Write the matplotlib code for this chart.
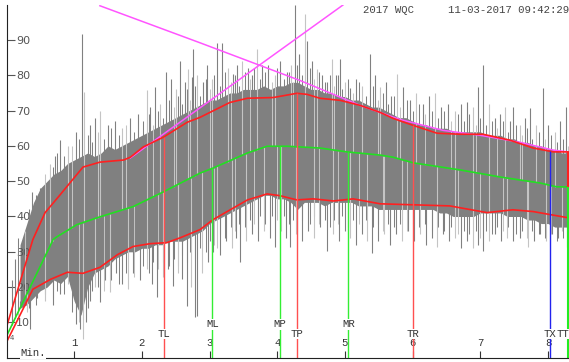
import numpy as np
import matplotlib
matplotlib.use("Agg")
import matplotlib.pyplot as plt

# envelope curves (minutes, value)
upper_x = [0.0, 0.39, 0.57, 0.79, 1.13, 1.38, 1.73, 1.83, 2.02, 2.32, 2.67, 2.86, 3.30, 3.56,
           3.94, 4.29, 4.44, 4.63, 4.93, 5.22, 5.52, 5.71, 6.01, 6.36, 6.70, 7.04, 7.44, 7.78,
           8.08, 8.30]
upper_y = [8.7, 33.5, 41.1, 46.1, 54.0, 55.4, 56.0, 56.8, 59.7, 62.5, 66.7, 68.1, 72.3, 73.5,
           73.7, 74.9, 74.6, 73.5, 72.9, 71.5, 69.5, 67.8, 65.8, 63.6, 63.3, 63.3, 61.6, 59.4,
           58.3, 58.3]

mean_x = [0.0, 0.69, 0.75, 1.04, 1.38, 1.87, 2.32, 2.86, 3.05, 3.56, 3.85, 4.15, 4.63, 5.03,
          5.52, 5.71, 6.01, 6.70, 7.29, 7.88, 8.13, 8.30]
mean_y = [6.1, 33.5, 34.3, 37.7, 39.9, 42.8, 47.0, 52.3, 53.7, 58.0, 59.9, 59.9, 59.4, 58.3,
          57.4, 56.8, 55.2, 53.2, 51.2, 49.5, 48.4, 48.4]

lower_x = [0.0, 0.39, 0.65, 0.90, 1.13, 1.38, 1.64, 1.87, 2.12, 2.37, 2.57, 2.86, 3.05, 3.56,
           3.85, 4.04, 4.29, 4.53, 4.83, 5.12, 5.52, 6.55, 7.10, 7.48, 7.78, 8.28]
lower_y = [4.4, 19.4, 22.2, 24.2, 23.9, 25.6, 29.2, 31.5, 32.3, 32.6, 34.0, 36.3, 39.1, 44.7,
           46.4, 45.9, 44.7, 45.0, 44.4, 45.0, 43.6, 43.0, 41.1, 41.9, 41.4, 39.7]

mag_down_x = [1.38, 2.86, 4.34, 5.22, 5.81, 6.45, 7.00, 7.59, 8.08, 8.30]
mag_down_y = [99.7, 89.2, 78.5, 71.5, 67.5, 64.4, 63.0, 61.0, 58.8, 58.3]
mag_up_x = [1.83, 4.97]
mag_up_y = [56.6, 99.9]

# dense part of the signal (every 0.1 min from 0.2)
core_hi = [32, 38, 44, 48, 50, 52, 53, 55, 56, 57, 58, 57, 58, 60, 59, 60, 61, 62, 63, 64,
           65, 66, 67, 68, 69, 70, 71, 72, 73, 73, 74, 75, 75, 76, 76, 76, 77, 76, 77, 77,
           78, 78, 77, 76, 76, 75, 75, 74, 74, 73, 73, 72, 71, 71, 70, 69, 68, 68, 67, 66,
           66, 65, 65, 65, 64, 64, 64, 64, 64, 63, 63, 63, 62, 62, 61, 61, 60, 60, 59, 59,
           58, 58]
core_lo = [14, 15, 17, 19, 20, 22, 21, 23, 16, 12, 20, 24, 25, 26, 28, 29, 30, 30, 31, 31,
           32, 32, 33, 33, 33, 34, 35, 36, 38, 39, 40, 41, 42, 43, 44, 45, 46, 46, 45, 45,
           44, 42, 44, 44, 44, 43, 44, 44, 44, 44, 43, 43, 43, 42, 42, 42, 42, 42, 42, 42,
           42, 42, 41, 41, 40, 40, 40, 40, 41, 41, 41, 41, 40, 40, 40, 39, 39, 38, 38, 37,
           37, 37]

# tall spikes above / below the dense part
up_x = [0.13, 0.28, 0.38, 0.50, 0.65, 0.72, 0.79, 0.91, 1.03, 1.12, 1.15, 1.24, 1.31, 1.38,
        1.50, 1.61, 1.71, 1.83, 1.95, 2.08, 2.12, 2.20, 2.27, 2.36, 2.43, 2.51, 2.57, 2.64,
        2.68, 2.74, 2.76, 2.82, 2.91, 2.96, 3.04, 3.11, 3.19, 3.27, 3.35, 3.41, 3.48, 3.57,
        3.63, 3.70, 3.78, 3.87, 3.97, 4.04, 4.15, 4.20, 4.26, 4.32, 4.41, 4.44, 4.52, 4.59,
        4.66, 4.74, 4.81, 4.87, 4.93, 5.00, 5.08, 5.17, 5.25, 5.37, 5.45, 5.52, 5.61, 5.68,
        5.77, 5.86, 5.96, 6.05, 6.15, 6.24, 6.33, 6.42, 6.52, 6.63, 6.72, 6.80, 6.89, 6.97,
        7.04, 7.13, 7.22, 7.29, 7.37, 7.44, 7.48, 7.59, 7.66, 7.73, 7.82, 7.93, 8.00, 8.11,
        8.18, 8.27]
up_y = [28, 36, 47, 48, 55, 57, 61.6, 60, 64, 91.8, 75.4, 66, 68, 70,
        66, 67, 65, 68, 69, 75.7, 71, 76.6, 72, 80.8, 79, 76, 84, 78,
        81.9, 79.6, 87.5, 80, 78, 83, 79, 89.2, 89.2, 82, 80.5, 83, 84, 82,
        80, 87.5, 83, 82.8, 80, 84, 80.8, 83, 100, 86, 97.4, 89.8, 84, 81.9,
        80, 78, 84.7, 80, 84.7, 78, 76.3, 79, 77, 86.1, 80, 76.6, 78, 74,
        80.5, 76.6, 73, 75, 72, 74, 74.9, 71, 72, 70, 72, 72.3, 71, 76.6,
        82.8, 72, 68, 69, 70.9, 67, 70.9, 66, 68, 70.6, 66, 76.3, 66, 64,
        67, 70.9]

dn_x = [0.08, 0.20, 0.31, 0.35, 0.45, 0.57, 0.68, 0.79, 0.91, 1.03, 1.09, 1.13, 1.18, 1.24,
        1.31, 1.38, 1.46, 1.53, 1.62, 1.71, 1.79, 1.87, 1.97, 2.08, 2.15, 2.23, 2.31, 2.39,
        2.46, 2.54, 2.59, 2.67, 2.73, 2.79, 2.82, 2.89, 2.98, 3.05, 3.11, 3.16, 3.24, 3.33,
        3.39, 3.45, 3.54, 3.63, 3.72, 3.81, 3.89, 3.97, 4.06, 4.13, 4.19, 4.28, 4.37, 4.46,
        4.55, 4.63, 4.74, 4.83, 4.91, 5.00, 5.08, 5.17, 5.25, 5.33, 5.40, 5.49, 5.58, 5.67,
        5.76, 5.85, 5.93, 6.02, 6.11, 6.20, 6.29, 6.36, 6.45, 6.54, 6.63, 6.72, 6.80, 6.89,
        6.97, 7.04, 7.13, 7.22, 7.31, 7.40, 7.48, 7.59, 7.71, 7.79, 7.88, 7.97, 8.06, 8.15,
        8.21, 8.28]
dn_y = [22, 16, 13, 8, 17, 16, 15, 18, 21, 9.5, 8.1, 5.3, 10, 16,
        20, 15.7, 22, 18.5, 24, 21, 19.4, 24, 22, 25, 21, 17.1, 23, 25,
        20.2, 24, 22.2, 14.6, 20, 11.4, 11.8, 24, 27, 30, 31, 29.2, 33, 31,
        34, 27, 33, 35, 33, 36, 34, 31.5, 36, 34, 31.5, 35, 33, 36,
        34, 37, 30.1, 35, 33, 36, 34, 32, 35, 33, 29.8, 33, 35, 32,
        35, 33, 36, 33, 35, 32, 34, 31.5, 35, 33, 34, 31, 33, 31,
        32, 30.1, 33, 35, 33, 34, 33, 34, 31.5, 33, 35, 33, 35, 34,
        36, 31.5]

# shorter spikes in between
mid_x = [0.17, 0.33, 0.44, 0.57, 0.69, 0.75, 0.85, 0.97, 1.07, 1.20, 1.27, 1.35, 1.44, 1.55,
         1.66, 1.77, 1.89, 2.01, 2.10, 2.16, 2.24, 2.31, 2.40, 2.47, 2.54, 2.60, 2.66, 2.71,
         2.79, 2.86, 2.94, 3.00, 3.07, 3.15, 3.23, 3.31, 3.38, 3.44, 3.52, 3.60, 3.66, 3.74,
         3.82, 3.92, 4.00, 4.10, 4.18, 4.23, 4.29, 4.36, 4.48, 4.55, 4.62, 4.70, 4.78, 4.84,
         4.90, 4.96, 5.04, 5.12, 5.21, 5.31, 5.41, 5.49, 5.56, 5.64, 5.72, 5.81, 5.91, 6.00,
         6.10, 6.19, 6.28, 6.37, 6.47, 6.57, 6.67, 6.76, 6.84, 6.93, 7.00, 7.08, 7.17, 7.25,
         7.33, 7.41, 7.52, 7.62, 7.69, 7.77, 7.87, 7.96, 8.05, 8.14, 8.22, 8.29]
mid_hi = [34, 42, 46, 52, 54, 58, 57, 60, 62, 63, 61, 64, 62, 65,
          63, 66, 64, 67, 69, 66, 70, 68, 73, 71, 74, 72, 76, 73,
          77, 74, 79, 76, 80, 77, 81, 78, 80, 77, 81, 79, 82, 79,
          81, 78, 82, 79, 81, 78, 83, 80, 82, 79, 81, 78, 80, 77,
          80, 76, 79, 75, 78, 74, 77, 73, 75, 72, 74, 71, 73, 70,
          72, 69, 70, 68, 70, 67, 69, 67, 69, 66, 68, 66, 67, 65,
          67, 64, 66, 63, 65, 62, 64, 62, 63, 61, 62, 60]
mid_lo = [12, 14, 15, 18, 17, 19, 18, 13, 10, 14, 19, 20, 19, 22,
          21, 24, 23, 26, 24, 27, 25, 27, 26, 28, 26, 29, 27, 30,
          28, 31, 30, 33, 32, 35, 34, 37, 36, 38, 37, 39, 38, 40,
          38, 40, 39, 40, 38, 39, 36, 39, 38, 40, 38, 39, 37, 39,
          38, 40, 37, 39, 38, 39, 37, 38, 36, 38, 37, 38, 36, 38,
          37, 38, 36, 37, 36, 37, 35, 36, 35, 36, 34, 36, 35, 37,
          36, 37, 35, 36, 34, 36, 35, 34, 35, 33, 34, 33]

x_ticks = [1, 2, 3, 4, 5, 6, 7, 8]
y_ticks = [10, 20, 30, 40, 50, 60, 70, 80, 90]

marker_names = ["TL", "ML", "MP", "TP", "MR", "TR", "TX", "TT"]
marker_pos = [2.32, 3.04, 4.04, 4.29, 5.05, 6.01, 8.03, 8.30]
marker_kind = ["r", "g", "g", "r", "g", "r", "b", "t"]

W, H = 569, 362
fig = plt.figure(figsize=(W / 100, H / 100), dpi=100)
ax = fig.add_axes([6.5 / W, 4.3 / H, (W - 6.5) / W, 353 / H])
ax.set_xlim(0, 8.31)
ax.set_ylim(0, 100)

gray = "#808080"
light = "#c4c4c4"
core_x = np.round(np.arange(0.2, 8.35, 0.1), 2)[:len(core_hi)]
ax.fill_between(core_x, core_lo, core_hi, color=gray, lw=0)

# spikes start from the mean line, the dense band hides their roots
mid_base = np.interp(mid_x, mean_x, mean_y)
cols_mid = [light if i % 4 == 3 else gray for i in range(len(mid_x))]
ax.vlines(mid_x, mid_base, mid_hi, colors=cols_mid, lw=0.75)
ax.vlines(mid_x, mid_lo, mid_base, colors=cols_mid[::-1], lw=0.75)

base_up = np.interp(up_x, mean_x, mean_y)
base_dn = np.interp(dn_x, mean_x, mean_y)
cols_up = [light if i % 3 == 1 else gray for i in range(len(up_x))]
cols_dn = [light if i % 3 == 2 else gray for i in range(len(dn_x))]
ax.vlines(up_x, base_up, up_y, colors=cols_up, lw=0.8)
ax.vlines(dn_x, dn_y, base_dn, colors=cols_dn, lw=0.8)

red = "#ff2020"
green = "#22e022"
ax.plot(mag_down_x, mag_down_y, color="#ff55ff", lw=1.1)
ax.plot(mag_up_x, mag_up_y, color="#ff55ff", lw=1.1)
ax.plot(upper_x, upper_y, color=red, lw=1.2)
ax.plot(lower_x, lower_y, color=red, lw=1.2)
ax.plot(mean_x, mean_y, color=green, lw=1.2)

mono = "Liberation Mono"
for name, xp, kind in zip(marker_names, marker_pos, marker_kind):
    top_u = np.interp(xp, upper_x, upper_y)
    top_m = np.interp(xp, mean_x, mean_y)
    if kind == "r":
        ax.vlines(xp, 0, top_u, colors="#ff5050", lw=1.0)
    elif kind == "g":
        ax.vlines(xp, 0, top_m, colors="#33ee33", lw=1.0)
    elif kind == "b":
        ax.vlines(xp, 0, top_u, colors="#2222ee", lw=1.0)
    else:
        ax.vlines(xp, top_m, top_u, colors="#ff2020", lw=1.5, clip_on=False)
        ax.vlines(xp, 0, top_m, colors="#22ee22", lw=1.5, clip_on=False)
    ly = 9.5 if kind == "g" else 6.7
    if name == "TT":
        ax.text(8.31, ly, name, ha="right", va="center", fontsize=7.7, family=mono,
                color="#333333", bbox=dict(facecolor="white", edgecolor="none", pad=0.3))
    else:
        ax.text(xp, ly, name, ha="center", va="center", fontsize=7.7, family=mono,
                color="#333333", bbox=dict(facecolor="white", edgecolor="none", pad=0.3))

for s in ["top", "right"]:
    ax.spines[s].set_visible(False)
ax.spines["left"].set_color("#222222")
ax.spines["bottom"].set_color("#222222")

ax.set_yticks(y_ticks)
ax.set_yticklabels([str(v) for v in y_ticks])
ax.tick_params(axis="y", direction="in", length=6, pad=-17, labelsize=8, labelcolor="#555555",
               color="#555555")
ax.set_xticks(x_ticks)
ax.set_xticklabels([str(v) for v in x_ticks], family=mono)
ax.tick_params(axis="x", direction="in", length=5, pad=-14, labelsize=7.7, labelcolor="#333333",
               color="#333333")

ax.text(0.39, 1.2, "Min.", ha="center", va="center", fontsize=7.7, family=mono, color="#333333",
        bbox=dict(facecolor="white", edgecolor="none", pad=0.5), clip_on=False)
ax.text(0.08, 5.5, "4", ha="center", va="center", fontsize=5, color="#555555")

fig.text(363 / W, 1 - 10 / H, "2017 WQC", ha="left", va="center", fontsize=7.7, family=mono,
         color="#444444")
fig.text(1.0, 1 - 10 / H, "11-03-2017 09:42:29", ha="right", va="center", fontsize=7.7,
         family=mono, color="#444444")

fig.savefig("out.png", dpi=100)
